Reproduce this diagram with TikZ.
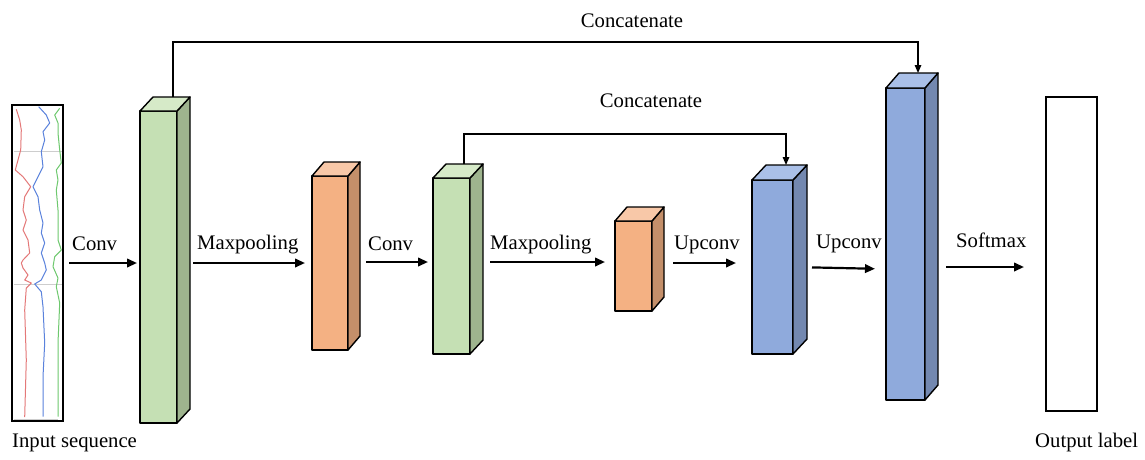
\documentclass[tikz,border=0pt]{standalone}
\usepackage{fontspec}
\setmainfont{Liberation Serif}
\usetikzlibrary{arrows.meta}
\definecolor{greenF}{RGB}{197,224,180}
\definecolor{greenS}{RGB}{158,180,142}
\definecolor{greenT}{RGB}{214,234,200}
\definecolor{orangeF}{RGB}{244,177,131}
\definecolor{orangeS}{RGB}{196,143,106}
\definecolor{orangeT}{RGB}{248,200,168}
\definecolor{blueF}{RGB}{143,170,220}
\definecolor{blueS}{RGB}{115,136,176}
\definecolor{blueT}{RGB}{170,192,232}
\definecolor{sigR}{RGB}{228,120,120}
\definecolor{sigB}{RGB}{90,130,220}
\definecolor{sigG}{RGB}{110,200,110}
\definecolor{gridG}{RGB}{205,205,205}
\newcommand\mycuboid[8]{%
  \node[face, fill=#8F, minimum width={(#4-#2)*1pt}, minimum height={(#5-#3)*1pt}, anchor=north west] (#1) at (#2,#3) {};
  \draw[face, fill=#8S] (#1.north east) -- ++(#6,-#7) -- ++(0,{#5-#3}) -- (#1.south east) -- cycle;
  \draw[face, fill=#8T] (#1.north west) -- ++(#6,-#7) -- ++({#4-#2},0) -- (#1.north east) -- cycle;
}
\begin{document}
\begin{tikzpicture}[x=1pt,y=-1pt,
  face/.style={draw=black, line width=1.4pt, line join=round, inner sep=0pt, outer sep=0pt},
  plainbox/.style={draw=black, line width=1.6pt, fill=white, inner sep=0pt, outer sep=0pt, anchor=north west},
  arr/.style={line width=2.2pt, -{Triangle[length=10pt,width=8.5pt]}},
  cat/.style={line width=1.4pt, -{Triangle[length=8pt,width=6.5pt]}},
  lbl/.style={font=\fontsize{20.7}{24}\selectfont, inner sep=0pt},
  sig/.style={line width=1pt, line join=round}]
\useasboundingbox (0,0) rectangle (1145,459);

% input sequence
\node[plainbox, minimum width=51pt, minimum height=316pt] (in) at (12,105) {};
\draw[gridG, line width=1pt] (14,151) -- (62,151) (14,284) -- (62,284) (14,419) -- (58,419);
\draw[sig, sigR] (16.3,109.3) -- (19.7,120) -- (21.3,130) -- (20.7,150) -- (18,160) -- (15.3,170) -- (23,176.7) -- (30.7,186.7) -- (24.7,196.7) -- (23,210) -- (26.3,220) -- (23,230) -- (28,240) -- (29.7,253) -- (23,260) -- (21.3,263) -- (23,268) -- (28,275) -- (24.7,280) -- (31.3,283) -- (26.3,288) -- (24.7,310) -- (26.3,360) -- (24.7,417);
\draw[sig, sigB] (38.7,106.7) -- (46.3,115) -- (49.7,123) -- (43,131.7) -- (44.7,140) -- (41.3,151.7) -- (43,166.7) -- (38,176.7) -- (33,186.7) -- (38,196.7) -- (39.7,210) -- (43,223) -- (41.3,233) -- (44.7,243) -- (41.3,253) -- (44.7,263) -- (46.3,270) -- (41.3,280) -- (34.7,284) -- (41.3,291.7) -- (43,306.7) -- (44.7,343) -- (43,376.7) -- (43,416.7);
\draw[sig, sigG] (59.7,108.3) -- (54.7,115) -- (58,123) -- (58,133) -- (59.7,150) -- (61.3,163) -- (56.3,170) -- (58,180) -- (56.3,190) -- (58,210) -- (58,240) -- (61.3,250) -- (54.7,256.7) -- (53,266.7) -- (58,278) -- (56.3,286.7) -- (59.7,303) -- (58,343) -- (58,416.7);

% blocks
\mycuboid{g1}{140}{111}{177}{423}{13}{14}{green}
\mycuboid{o1}{312}{176}{348}{350}{12}{14}{orange}
\mycuboid{g2}{433}{178}{470}{354}{13}{14}{green}
\mycuboid{o2}{615}{221}{652}{311}{12}{14}{orange}
\mycuboid{b1}{752}{180}{793}{354}{14}{15}{blue}
\mycuboid{b2}{886}{88}{925}{400}{13}{15}{blue}

% output
\node[plainbox, minimum width=51pt, minimum height=314pt] (out) at (1046,97) {};

% arrows
\draw[arr, shorten <=6pt, shorten >=3pt] (in.east |- 0,263) -- (g1.west |- 0,263);
\draw[arr, shorten <=16pt, shorten >=7pt] (g1.east |- 0,263) -- (o1.west |- 0,263);
\draw[arr, shorten <=18pt, shorten >=5pt] (o1.east |- 0,262) -- (g2.west |- 0,262);
\draw[arr, shorten <=20pt, shorten >=10pt] (g2.east |- 0,262) -- (o2.west |- 0,262);
\draw[arr, shorten <=21pt, shorten >=16pt] (o2.east |- 0,263) -- (b1.west |- 0,263);
\draw[arr, shorten <=19pt, shorten >=11pt] (b1.east |- 0,267) -- (b2.west |- 0,269);
\draw[arr, shorten <=21pt, shorten >=22pt] (b2.east |- 0,267) -- (out.west |- 0,267);

% labels
\node[lbl, anchor=base west] (l1) at (72,250) {Conv};
\node[lbl, anchor=base west] (l2) at (197,249) {Maxpooling};
\node[lbl, anchor=base west] (l3) at (368,250) {Conv};
\node[lbl, anchor=base west] (l4) at (490,249) {Maxpooling};
\node[lbl, anchor=base west] (l5) at (674,249) {Upconv};
\node[lbl, anchor=base west] (l6) at (816,248) {Upconv};
\node[lbl, anchor=base west] (l7) at (956,247) {Softmax};
\node[lbl, anchor=base west] (lin) at (12,447) {Input sequence};
\node[lbl, anchor=base west] (lout) at (1035,447) {Output label};

% concatenations
\coordinate (g1top) at (173,97);
\coordinate (b2top) at (918,73);
\coordinate (g2top) at (464,164);
\coordinate (b1top) at (786,165);
\draw[cat] (g1top) -- (g1top |- 0,42) -| (b2top);
\draw[cat] (g2top) -- (g2top |- 0,134) -| (b1top);
\node[lbl, anchor=base] (c1) at (632,27) {Concatenate};
\node[lbl, anchor=base] (c2) at (651,107) {Concatenate};
\end{tikzpicture}
\end{document}
